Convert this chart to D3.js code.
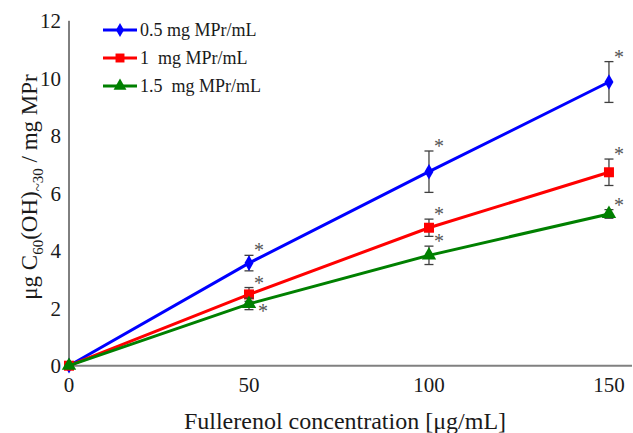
<!DOCTYPE html>
<html>
<head>
<meta charset="utf-8">
<script src="https://cdn.jsdelivr.net/npm/d3@7"></script>
<style>
  html, body { margin: 0; padding: 0; background: #fff; }
  svg { display: block; }
  text { font-family: "Liberation Serif", "Times New Roman", serif; }
</style>
</head>
<body>
<svg id="chart" width="633" height="433"></svg>
<script>
// Fullerenol concentration (µg/mL)
const concentrations = [0, 50, 100, 150];

// Bound fullerenol per mg of milk protein, for three protein concentrations
const series05 = [0, 3.57, 6.75, 9.87];
const series10 = [0, 2.48, 4.80, 6.73];
const series15 = [0, 2.15, 3.84, 5.28];

// Standard deviations
const err05 = [0, 0.27, 0.72, 0.71];
const err10 = [0, 0.24, 0.30, 0.46];
const err15 = [0, 0.20, 0.32, 0.15];

// Significance markers: where the asterisk sits next to each point
const starPlace05 = ["", "above", "above", "above"];
const starPlace10 = ["", "above", "above", "above"];
const starPlace15 = ["", "right", "above", "above"];

const seriesNames = ["0.5 mg MPr/mL", "1  mg MPr/mL", "1.5  mg MPr/mL"];
const seriesColors = ["#0000ff", "#ff0000", "#008000"];
const seriesSymbols = [d3.symbolDiamond, d3.symbolSquare, d3.symbolTriangle];
const symbolSizes = [70, 100, 90];

const xTicks = [0, 50, 100, 150];
const yTicks = [0, 2, 4, 6, 8, 10, 12];

const svg = d3.select("#chart");

const x = d3.scaleLinear().domain([0, 156.4]).range([69, 632]);
const y = d3.scaleLinear().domain([0, 12]).range([365.7, 20.8]);

// Axes
svg.append("line")
  .attr("x1", x(0)).attr("x2", x(0))
  .attr("y1", y(12)).attr("y2", y(0))
  .attr("stroke", "#000").attr("stroke-width", 1);

svg.append("line")
  .attr("x1", x(0)).attr("x2", x.range()[1])
  .attr("y1", y(0)).attr("y2", y(0))
  .attr("stroke", "#808080").attr("stroke-width", 2);

svg.append("g").selectAll("text").data(yTicks).join("text")
  .attr("x", x(0) - 8)
  .attr("y", d => y(d))
  .attr("dy", "0.35em")
  .attr("text-anchor", "end")
  .attr("font-size", 21)
  .attr("fill", "#1a1a1a")
  .text(d => d);

svg.append("g").selectAll("text").data(xTicks).join("text")
  .attr("x", d => x(d))
  .attr("y", 392)
  .attr("text-anchor", "middle")
  .attr("font-size", 21)
  .attr("fill", "#1a1a1a")
  .text(d => d);

// Axis titles
svg.append("text")
  .attr("x", 345).attr("y", 429)
  .attr("text-anchor", "middle")
  .attr("font-size", 24)
  .attr("fill", "#1a1a1a")
  .text("Fullerenol concentration [μg/mL]");

const yTitle = svg.append("text")
  .attr("transform", "translate(37,187) rotate(-90)")
  .attr("text-anchor", "middle")
  .attr("font-size", 23)
  .attr("fill", "#1a1a1a");
yTitle.append("tspan").text("μg C");
yTitle.append("tspan").attr("font-size", 15).attr("dy", 6).text("60");
yTitle.append("tspan").attr("dy", -6).text("(OH)");
yTitle.append("tspan").attr("font-size", 15).attr("dy", 6).text("~30");
yTitle.append("tspan").attr("dy", -6).text(" / mg MPr");

// Series
const allSeries = [
  { values: series05, errors: err05, stars: starPlace05 },
  { values: series10, errors: err10, stars: starPlace10 },
  { values: series15, errors: err15, stars: starPlace15 }
];

const line = d3.line().x(d => x(d[0])).y(d => y(d[1]));

allSeries.forEach((s, i) => {
  const pts = concentrations.map((c, j) => [c, s.values[j], s.errors[j], s.stars[j]]);
  const g = svg.append("g");

  // error bars
  const eb = g.selectAll("g.err").data(pts.filter(p => p[2] > 0)).join("g");
  eb.append("line")
    .attr("x1", p => x(p[0])).attr("x2", p => x(p[0]))
    .attr("y1", p => y(p[1] + p[2])).attr("y2", p => y(p[1] - p[2]))
    .attr("stroke", "#404040").attr("stroke-width", 1.3);
  eb.append("line")
    .attr("x1", p => x(p[0]) - 4.5).attr("x2", p => x(p[0]) + 4.5)
    .attr("y1", p => y(p[1] + p[2])).attr("y2", p => y(p[1] + p[2]))
    .attr("stroke", "#404040").attr("stroke-width", 1.3);
  eb.append("line")
    .attr("x1", p => x(p[0]) - 4.5).attr("x2", p => x(p[0]) + 4.5)
    .attr("y1", p => y(p[1] - p[2])).attr("y2", p => y(p[1] - p[2]))
    .attr("stroke", "#404040").attr("stroke-width", 1.3);

  g.append("path")
    .datum(pts)
    .attr("d", line)
    .attr("fill", "none")
    .attr("stroke", seriesColors[i])
    .attr("stroke-width", 3);

  g.selectAll("path.mark").data(pts).join("path")
    .attr("class", "mark")
    .attr("transform", p => `translate(${x(p[0])},${y(p[1])})`)
    .attr("d", d3.symbol().type(seriesSymbols[i]).size(symbolSizes[i]))
    .attr("fill", seriesColors[i]);

  // significance asterisks
  g.selectAll("text.star").data(pts.filter(p => p[3])).join("text")
    .attr("class", "star")
    .attr("x", p => x(p[0]) + (p[3] === "right" ? 14 : 10))
    .attr("y", p => p[3] === "right" ? y(p[1]) + 3 : y(p[1] + p[2]) - 9)
    .attr("dy", "0.55em")
    .attr("text-anchor", "middle")
    .attr("font-size", 20)
    .attr("fill", "#555")
    .text("*");
});

// Legend
const legend = svg.append("g");
seriesNames.forEach((name, i) => {
  const ly = 30 + i * 28;
  legend.append("line")
    .attr("x1", 103).attr("x2", 137)
    .attr("y1", ly).attr("y2", ly)
    .attr("stroke", seriesColors[i]).attr("stroke-width", 3);
  legend.append("path")
    .attr("transform", `translate(120,${ly})`)
    .attr("d", d3.symbol().type(seriesSymbols[i]).size(symbolSizes[i] * 0.8))
    .attr("fill", seriesColors[i]);
  legend.append("text")
    .attr("x", 140).attr("y", ly)
    .attr("dy", "0.35em")
    .attr("font-size", 18)
    .attr("fill", "#1a1a1a")
    .attr("xml:space", "preserve")
    .style("white-space", "pre")
    .text(name);
});
</script>
</body>
</html>
